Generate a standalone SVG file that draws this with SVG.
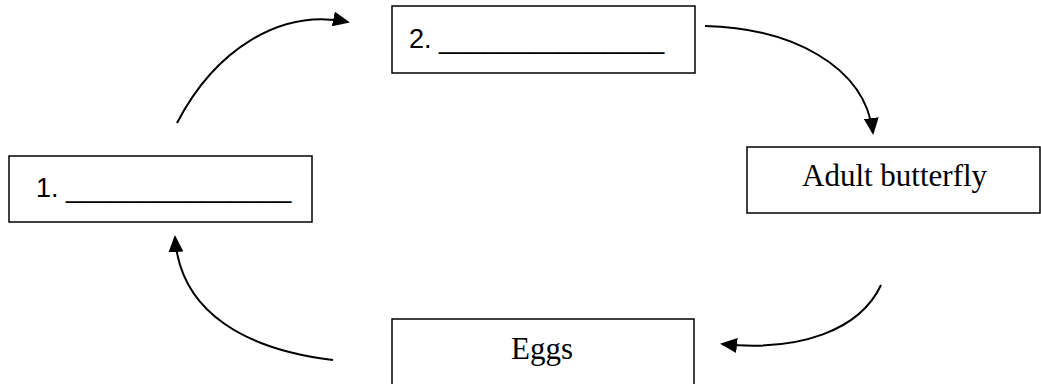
<svg xmlns="http://www.w3.org/2000/svg" width="1041" height="384" viewBox="0 0 1041 384">
<style>
.box{fill:#fff;stroke:#000;stroke-width:1.5}
.sans{font-family:"Liberation Sans",Arial,sans-serif;font-size:27px;fill:#000}
.serif{font-family:"Liberation Serif","Times New Roman",serif;font-size:31px;fill:#000}
.conn{fill:none;stroke:#000;stroke-width:2;marker-end:url(#ah)}
</style>
<defs>
<marker id="ah" markerUnits="userSpaceOnUse" markerWidth="17" markerHeight="15" refX="15" refY="7.5" orient="auto">
<path d="M0,0 L17,7.5 L0,15 z" fill="#000"/>
</marker>
</defs>
<rect width="1041" height="384" fill="#fff"/>
<g id="node1">
<rect class="box" x="9" y="156" width="303" height="66"/>
<text class="sans" x="36" y="197">1. _______________</text>
</g>
<g id="node2">
<rect class="box" x="392" y="6" width="303" height="67"/>
<text class="sans" x="409" y="48">2. _______________</text>
</g>
<g id="node3">
<rect class="box" x="747" y="147" width="293" height="66"/>
<text class="serif" x="802" y="186">Adult butterfly</text>
</g>
<g id="node4">
<rect class="box" x="392" y="319" width="302" height="80"/>
<text class="serif" x="511" y="359">Eggs</text>
</g>
<g id="connectors">
<path class="conn" d="M177,123 C215,50 280,8 348,22"/>
<path class="conn" d="M705,26 C790,28 865,65 873,133"/>
<path class="conn" d="M881,285 C860,330 800,352 722,344"/>
<path class="conn" d="M333,360 C250,350 180,315 175,237"/>
</g>
</svg>
